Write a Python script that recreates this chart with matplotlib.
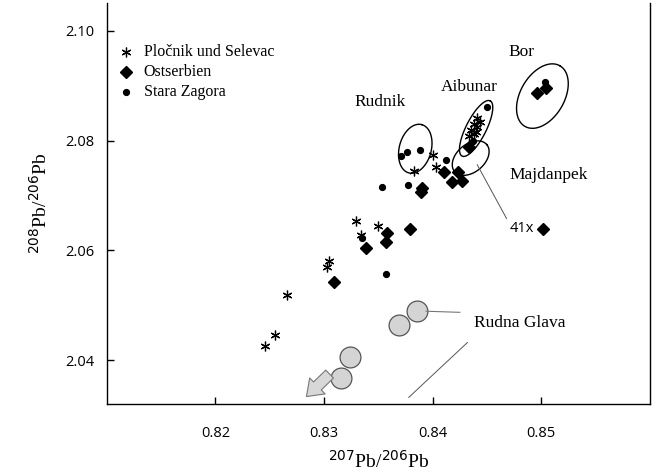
import numpy as np
import matplotlib
matplotlib.use("Agg")
import matplotlib.pyplot as plt

# --- data -------------------------------------------------------------
star_x = [0.8246, 0.8255, 0.8266, 0.8329, 0.8334, 0.8350, 0.8305, 0.8303,
          0.8383, 0.8400, 0.8403,
          0.8441, 0.8444, 0.8438, 0.8441, 0.8435, 0.8440, 0.8433, 0.8438]
star_y = [2.0426, 2.0446, 2.0519, 2.0653, 2.0628, 2.0644, 2.0580, 2.0570,
          2.0745, 2.0774, 2.0752,
          2.0841, 2.0833, 2.0831, 2.0825, 2.0819, 2.0816, 2.0808, 2.0812]

dia_x = [0.8309, 0.8339, 0.8357, 0.8358, 0.8379, 0.8389, 0.8390, 0.8410,
         0.8423, 0.8418, 0.8427, 0.8433, 0.8496, 0.8504, 0.8502]
dia_y = [2.0543, 2.0604, 2.0616, 2.0631, 2.0639, 2.0707, 2.0714, 2.0742,
         2.0743, 2.0724, 2.0726, 2.0789, 2.0886, 2.0896, 2.0639]

dot_x = [0.8357, 0.8335, 0.8353, 0.8377, 0.8412, 0.8371, 0.8376, 0.8388,
         0.8450, 0.8437, 0.8503]
dot_y = [2.0556, 2.0622, 2.0715, 2.0719, 2.0764, 2.0772, 2.0779, 2.0783,
         2.0861, 2.0799, 2.0907]

rg_x = [0.8324, 0.8316, 0.8369, 0.8386]   # Rudna Glava circles
rg_y = [2.0405, 2.0368, 2.0464, 2.0489]

legend_labels = ["Pločnik und Selevac", "Ostserbien", "Stara Zagora"]
xticks = [0.82, 0.83, 0.84, 0.85]
yticks = [2.04, 2.06, 2.08, 2.10]

serif = "Liberation Serif"
sans = "Open Sans"

fig = plt.figure(figsize=(6.59, 4.75), dpi=100)
ax = fig.add_axes([0.1619, 0.1495, 0.8244, 0.8435])
ax.set_xlim(0.810, 0.860)
ax.set_ylim(2.032, 2.105)

ax.spines["top"].set_visible(False)
for s in ["left", "bottom", "right"]:
    ax.spines[s].set_linewidth(1.0)
ax.set_xticks(xticks)
ax.set_yticks(yticks)
ax.set_xticklabels(["%.2f" % v for v in xticks], fontfamily=sans, fontsize=10.5)
ax.set_yticklabels(["%.2f" % v for v in yticks], fontfamily=sans, fontsize=10.5)
ax.tick_params(direction="in", length=5, width=1)
ax.tick_params(axis="x", pad=16)
ax.tick_params(axis="y", pad=9, right=False)

star_marker = (6, 2, 0)
ax.plot(star_x, star_y, ls="none", marker=star_marker, ms=7, mew=0.9, color="black")
ax.plot(dia_x, dia_y, ls="none", marker="D", ms=6.5, color="black")
ax.plot(dot_x, dot_y, ls="none", marker="o", ms=4.2, color="black")

# Rudna Glava circles
ax.plot(rg_x, rg_y, ls="none", marker="o", ms=15, mfc="#d4d4d4", mec="#555555", mew=0.9)

# arrow
ax.annotate("", xy=(0.8282, 2.0330), xytext=(0.8307, 2.0378),
            arrowprops=dict(arrowstyle="simple,head_width=1.6,head_length=1.1,tail_width=0.8",
                            fc="#d8d8d8", ec="#777777", lw=0.8))

fig.canvas.draw()
inv = ax.transData.inverted()

def ellipse(cx, cy, a, b, ang):
    c = ax.transData.transform((cx, cy))
    t = np.linspace(0, 2 * np.pi, 200)
    th = np.deg2rad(ang)
    px = a * np.cos(t) * np.cos(th) - b * np.sin(t) * np.sin(th) + c[0]
    py = a * np.cos(t) * np.sin(th) + b * np.sin(t) * np.cos(th) + c[1]
    d = inv.transform(np.column_stack([px, py]))
    ax.plot(d[:, 0], d[:, 1], color="black", lw=1.0)

# (center data, semi-axes in px, angle deg)
ellipse(0.8384, 2.0785, 25, 16, 75)    # Rudnik
ellipse(0.8440, 2.0822, 31, 10, 63)    # Aibunar
ellipse(0.8435, 2.0768, 21, 14, 40)    # Majdanpek
ellipse(0.8501, 2.0881, 35, 22, 60)    # Bor

# leader lines
ax.plot([0.8441, 0.8468], [2.0756, 2.0658], color="#555555", lw=0.7)
ax.plot([0.8394, 0.8425], [2.0489, 2.0487], color="#777777", lw=0.8)
ax.plot([0.8378, 0.8432], [2.0332, 2.0432], color="#555555", lw=0.7)

# labels
kw = dict(fontfamily=serif, fontsize=12.5, ha="center", va="center")
ax.text(0.8482, 2.0962, "Bor", **kw)
ax.text(0.8434, 2.0897, "Aibunar", **kw)
ax.text(0.8352, 2.0870, "Rudnik", **kw)
ax.text(0.8507, 2.0737, "Majdanpek", **kw)
ax.text(0.8480, 2.0468, "Rudna Glava", **kw)
ax.text(0.8482, 2.0639, "41x", fontfamily=sans, fontsize=10.5, ha="center", va="center")

# legend (manual)
leg_y = [2.0961, 2.0925, 2.0888]
leg_m = [dict(marker=star_marker, ms=7, mew=0.9), dict(marker="D", ms=6.5), dict(marker="o", ms=4.2)]
for yy, lab, m in zip(leg_y, legend_labels, leg_m):
    ax.plot([0.8118], [yy], ls="none", color="black", **m)
    ax.text(0.8134, yy, lab, fontfamily=serif, fontsize=11.5, ha="left", va="center")

ax.set_xlabel(r"$^{207}$Pb/$^{206}$Pb", fontfamily=serif, fontsize=14, labelpad=6)
ax.set_ylabel(r"$^{208}$Pb/$^{206}$Pb", fontfamily=serif, fontsize=14, labelpad=10)

fig.savefig("out.png", dpi=100)
